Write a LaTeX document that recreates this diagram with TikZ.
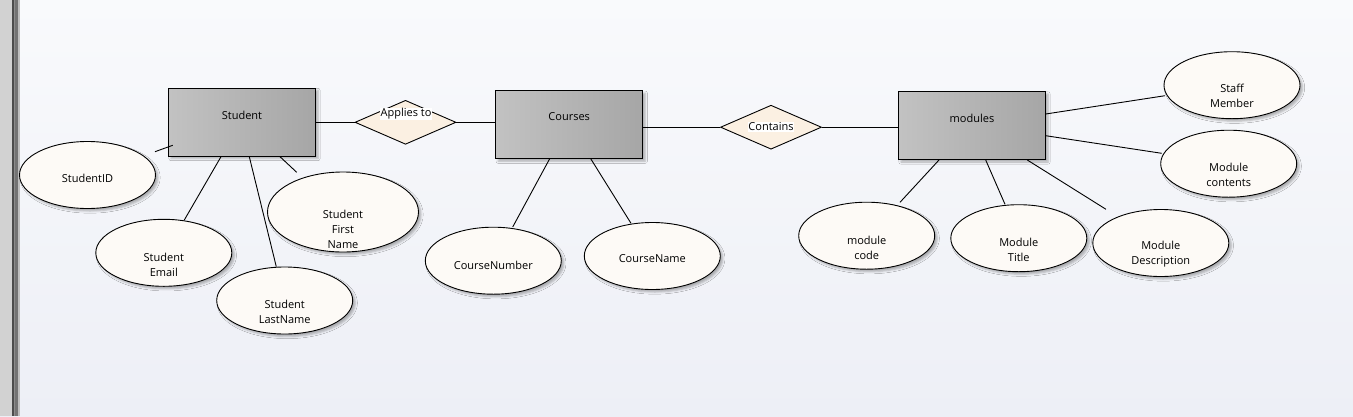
\documentclass[tikz,border=0pt]{standalone}
\usepackage{fontspec}
\setmainfont{Open Sans}
\usetikzlibrary{shapes.geometric,shadows.blur}
\definecolor{bgtop}{HTML}{F9FAFC}
\definecolor{bgbot}{HTML}{EDEFF6}
\definecolor{ellfill}{HTML}{FDFAF6}
\definecolor{diafill}{HTML}{FBF0E2}
\definecolor{entl}{HTML}{C2C2C2}
\definecolor{entr}{HTML}{A6A6A6}
\definecolor{strip}{HTML}{D2D2D2}
\tikzset{
  entity/.style={draw=black, line width=0.9pt, left color=entl, right color=entr,
    minimum width=147pt, minimum height=68pt, inner sep=0pt,
    blur shadow={shadow xshift=2.5pt, shadow yshift=-2.5pt, shadow blur steps=4, shadow opacity=30}},
  attr/.style={draw=black, line width=0.9pt, fill=ellfill, ellipse,
    minimum width=136pt, minimum height=67pt, inner sep=0pt, align=center,
    blur shadow={shadow xshift=2.5pt, shadow yshift=-2.5pt, shadow blur steps=4, shadow opacity=30}},
  rel/.style={draw=black, line width=0.9pt, fill=diafill, diamond, aspect=2.3,
    minimum width=101pt, minimum height=44pt, inner sep=0pt},
  lbl/.style={fill=white, inner sep=0.6pt, font=\fontsize{11}{13}\selectfont},
  txt/.style={font=\fontsize{11}{15}\selectfont, align=center},
  conn/.style={line width=0.9pt, black}
}
\begin{document}
\begin{tikzpicture}[x=1pt,y=-1pt]
\useasboundingbox (0,0) rectangle (1353,416);
\shade[top color=bgtop, bottom color=bgbot] (0,0) rectangle (1353,416);
% left strip
\fill[strip] (0,0) rectangle (12,416);
\fill[black!70] (12,0) rectangle (13.5,416);
\fill[black!45] (13.5,0) rectangle (15,416);
\fill[black!55] (15,0) rectangle (17.5,416);
\fill[black!25] (17.5,0) rectangle (20,416);

% entities
\node[entity] (student) at (242,122) {};
\node[txt] at (242,115) {Student};
\node[entity] (courses) at (569.2,124.7) {};
\node[txt] at (569.2,117) {Courses};
\node[entity] (modules) at (972,125.5) {};
\node[txt] at (972,118.3) {modules};

% relationships
\node[rel] (applies) at (405.5,122.3) {};
\node[lbl] (appliesl) at (406,114) {Applies to};
\node[rel] (contains) at (771,127.2) {};
\node[lbl] (containsl) at (771,127) {Contains};

% attributes
\node[attr] (sid) at (87.5,175) {};
\node[txt] at (87.5,178) {StudentID};
\node[attr] (semail) at (163.8,252.8) {};
\node[txt] at (163.8,264.5) {Student\\Email};
\node[attr] (slast) at (284.7,300.5) {};
\node[txt] at (284.7,311.5) {Student\\LastName};
\node[attr, minimum width=151pt, minimum height=80pt] (sfirst) at (343,212) {};
\node[txt] at (343,229.5) {Student\\First\\Name};
\node[attr] (cnum) at (493.3,260.7) {};
\node[txt] at (493.3,265) {CourseNumber};
\node[attr] (cname) at (652.3,256) {};
\node[txt] at (652.3,259) {CourseName};
\node[attr] (staff) at (1232,85.2) {};
\node[txt] at (1232,96) {Staff\\Member};
\node[attr] (mcont) at (1228.7,163.7) {};
\node[txt] at (1228.7,174.5) {Module\\contents};
\node[attr] (mcode) at (866.7,235.7) {};
\node[txt] at (866.7,247.5) {module\\code};
\node[attr] (mtitle) at (1018.8,238.2) {};
\node[txt] at (1018.8,249.5) {Module\\Title};
\node[attr] (mdesc) at (1160.8,243) {};
\node[txt] at (1160.8,254.5) {Module\\Description};

% connector end points
\coordinate (a1) at (155,151.7);   \coordinate (a2) at (172.7,145.3);
\coordinate (b1) at (184.3,220);   \coordinate (b2) at (221,156.7);
\coordinate (c1) at (276.3,266.7); \coordinate (c2) at (249.3,156.7);
\coordinate (d1) at (296.7,172.3); \coordinate (d2) at (280,156.7);
\coordinate (e1) at (512.7,227);   \coordinate (e2) at (549.7,158.7);
\coordinate (f1) at (631,223.3);   \coordinate (f2) at (590.7,158.7);
\coordinate (g1) at (1165,95.7);   \coordinate (g2) at (1045.7,114);
\coordinate (h1) at (1161.7,153.3);\coordinate (h2) at (1045.7,135.7);
\coordinate (i1) at (900,202.3);   \coordinate (i2) at (939,160);
\coordinate (j1) at (1005,204.3);  \coordinate (j2) at (985.7,160);
\coordinate (k1) at (1106,209.3);  \coordinate (k2) at (1027.3,160);

\draw[conn] (a1) -- (a2);
\draw[conn] (b1) -- (b2);
\draw[conn] (c1) -- (c2);
\draw[conn] (d1) -- (d2);
\draw[conn] (e1) -- (e2);
\draw[conn] (f1) -- (f2);
\draw[conn] (g1) -- (g2);
\draw[conn] (h1) -- (h2);
\draw[conn] (i1) -- (i2);
\draw[conn] (j1) -- (j2);
\draw[conn] (k1) -- (k2);

\draw[conn] (student.east |- applies.west) -- (applies.west);
\draw[conn] (applies.east) -- (courses.west |- applies.east);
\draw[conn] (courses.east |- contains.west) -- (contains.west);
\draw[conn] (contains.east) -- (modules.west |- contains.east);
\end{tikzpicture}
\end{document}
